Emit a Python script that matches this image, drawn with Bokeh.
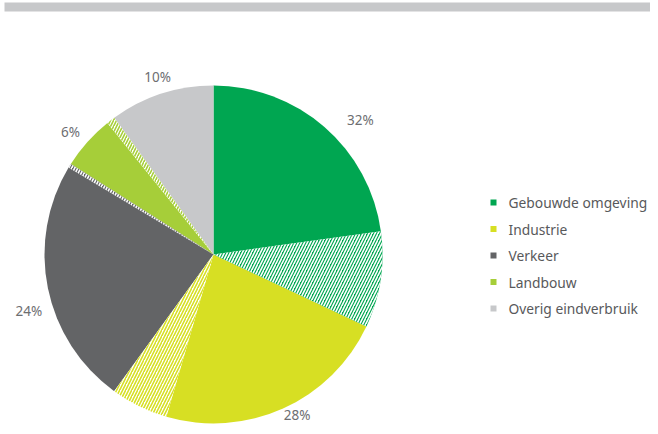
import math
from bokeh.plotting import figure
from bokeh.models import Range1d, ColumnDataSource
from bokeh.core.properties import value
from bokeh.embed import file_html
from bokeh.resources import INLINE

# ---------------- data ----------------
categories = ["Gebouwde omgeving", "Industrie", "Verkeer", "Landbouw", "Overig eindverbruik"]
shares = [32, 28, 24, 6, 10]            # percent of total
hatched_part = [9.2, 5.5, 0.4, 0.8, 0.0]  # hatched portion of each share (percent points)
labels = ["32%", "28%", "24%", "6%", "10%"]

# ---------------- style / layout ----------------
colors = ["#00A651", "#D7DF23", "#636466", "#A6CE39", "#C7C8CA"]
hatch_fill = ["#00A651", "#FFFFFF", "#636466", "#FFFFFF", "#C7C8CA"]
hatch_line = ["#FFFFFF", "#D7DF23", "#FFFFFF", "#A6CE39", "#FFFFFF"]
label_angle_deg = [47.6, 152.5, 253.0, 310.5, 342.5]   # clockwise from 12 o'clock
label_radius = [199, 181, 193, 188, 186]

W, H = 650, 426


def Y(img_y):
    return H - img_y


cx, cy = 213, Y(254)
R = 169

p = figure(width=W, height=H, output_backend="svg", toolbar_location=None,
           x_range=Range1d(0, W), y_range=Range1d(0, H),
           min_border=0)
p.axis.visible = False
p.grid.visible = False
p.outline_line_color = None
p.background_fill_color = "white"
p.border_fill_color = "white"

# top grey band
p.quad(left=[4], right=[W], top=[Y(2)], bottom=[Y(11)], fill_color="#C7C8CA", line_color=None)


def to_bokeh(theta_deg):
    return math.radians(90 - theta_deg)


cum = 0.0
solid = dict(start=[], end=[], color=[])
hatch = dict(start=[], end=[], fill=[], hcol=[])
for i, s in enumerate(shares):
    a0 = cum * 3.6
    a1 = (cum + s - hatched_part[i]) * 3.6
    a2 = (cum + s) * 3.6
    solid["start"].append(to_bokeh(a0))
    solid["end"].append(to_bokeh(a1))
    solid["color"].append(colors[i])
    if hatched_part[i] > 0:
        hatch["start"].append(to_bokeh(a1))
        hatch["end"].append(to_bokeh(a2))
        hatch["fill"].append(hatch_fill[i])
        hatch["hcol"].append(hatch_line[i])
    cum += s

src_s = ColumnDataSource(dict(x=[cx] * len(solid["start"]), y=[cy] * len(solid["start"]), **solid))
p.wedge(x="x", y="y", radius=R, radius_units="screen", start_angle="start", end_angle="end",
        direction="clock", fill_color="color", line_color=None, source=src_s)

src_h = ColumnDataSource(dict(x=[cx] * len(hatch["start"]), y=[cy] * len(hatch["start"]), **hatch))
p.wedge(x="x", y="y", radius=R, radius_units="screen", start_angle="start", end_angle="end",
        direction="clock", fill_color="fill", line_color=None,
        hatch_pattern="/", hatch_color="hcol", hatch_scale=6, hatch_weight=1.6,
        source=src_h)

# percentage labels
lx = [cx + r * math.sin(math.radians(a)) for a, r in zip(label_angle_deg, label_radius)]
ly = [cy + r * math.cos(math.radians(a)) for a, r in zip(label_angle_deg, label_radius)]
p.text(x=lx, y=ly, text=labels, text_align="center", text_baseline="middle",
       text_font=value("Noto Sans"), text_font_size="13.5px", text_color="#6D6E71")

# legend
leg_y = [Y(202 + 26.5 * i) for i in range(len(categories))]
p.rect(x=[493] * len(categories), y=leg_y, width=6, height=6, width_units="screen",
       height_units="screen", fill_color=colors, line_color=None)
p.text(x=[508] * len(categories), y=leg_y, text=categories, text_align="left",
       text_baseline="middle", text_font=value("Noto Sans"), text_font_size="13.8px",
       text_color="#58595B")

open("out.html", "w").write(file_html(p, INLINE))
